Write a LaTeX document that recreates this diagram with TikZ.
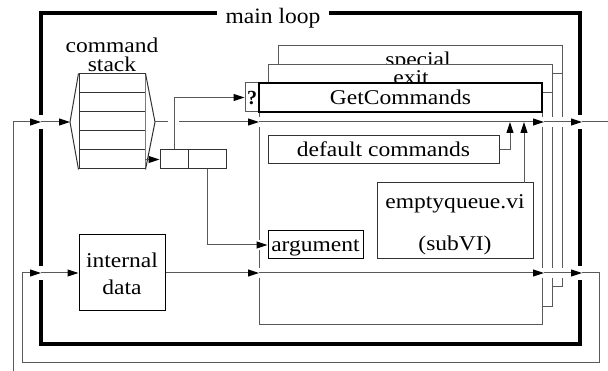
\documentclass[tikz,border=0pt]{standalone}
\usepackage{fontspec}
\setmainfont{Liberation Serif}
\usetikzlibrary{arrows.meta}
\newcommand\stx[1]{\scalebox{1.12}[1]{#1}}
\begin{document}
\begin{tikzpicture}[x=1pt,y=-1pt,
  wire/.style={draw=black!65, line width=1pt},
  frameline/.style={draw=black, line width=4pt},
  box/.style={draw=black!80, line width=1pt, fill=white, inner sep=0pt,
    font=\fontsize{21}{25}\selectfont, text height=14pt, text depth=0pt},
  arr/.style={-{Triangle[length=11pt,width=7pt,color=black]}},
  lbl/.style={font=\fontsize{21}{25}\selectfont, inner sep=0pt, anchor=base},
]
\useasboundingbox (0,0) rectangle (608,371);
% main loop frame
\draw[frameline] (217,13) -- (41,13) -- (41,115);
\draw[frameline] (41,129) -- (41,266);
\draw[frameline] (41,280) -- (41,344) -- (580,344) -- (580,280);
\draw[frameline] (580,266) -- (580,129);
\draw[frameline] (580,115) -- (580,13) -- (329,13);
\node[lbl, font=\fontsize{22}{26}\selectfont] (ml) at (273,24) {\scalebox{1.07}[1]{main loop}};

% special page
\draw[wire] (278,65) -- (278,46) -- (562,46) -- (562,117);
\draw[wire] (562,127) -- (562,268);
\draw[wire] (562,278) -- (562,287) -- (552,287);
\draw[wire] (552,74) -- (562,74);
\node[lbl] (sp) at (418,67) {\stx{special}};
% exit page
\fill[white] (268,65) rectangle (552,83);
\draw[wire] (268,83) -- (268,65) -- (552,65) -- (552,117);
\draw[wire] (552,127) -- (552,268);
\draw[wire] (552,278) -- (552,307) -- (542,307);
\draw[wire] (542,93) -- (552,93);
\node[lbl] (ex) at (411,85) {\stx{exit}};
% inner case frame
\draw[wire] (542,83) -- (542,117);
\draw[wire] (542,127) -- (542,268);
\draw[wire] (542,278) -- (542,325) -- (259,325) -- (259,278);
\draw[wire] (259,268) -- (259,250);
\draw[wire] (259,240) -- (259,127);
\draw[wire] (259,117) -- (259,112);
\node[box, draw=black!65, minimum width=14pt, minimum height=29pt, font=\fontsize{20}{24}\selectfont\bfseries] (q) at (252,97.5) {?};
\node[box, draw=black, line width=1.3pt, minimum width=283pt, minimum height=29pt] (gc) at (400.5,97.5) {\stx{GetCommands}};

% command stack
\node[box, minimum width=66pt, minimum height=95pt] (cs) at (112,121.5) {};
\foreach \yy in {93,112,131,150} \draw[box] (79,\yy) -- (145,\yy);
\coordinate (hexL) at (70,122);
\coordinate (hexR) at (155,122);
\draw[box] (cs.north west) -- (hexL) -- (cs.south west);
\draw[box] (cs.north east) -- (hexR) -- (cs.south east);
\node[lbl] (cmd1) at (112,53) {\stx{command}};
\node[lbl] (cmd2) at (112,72) {\stx{stack}};

% unbundle
\node[box, minimum width=28pt, minimum height=19pt] (ub1) at (174,159.5) {};
\node[box, minimum width=38pt, minimum height=19pt] (ub2) at (207,159.5) {};
\coordinate (row5) at (145,159.5);

% boxes
\node[box, minimum width=231pt, minimum height=28pt] (dc) at (383.5,150) {\stx{default commands}};
\node[box, draw=black, minimum width=95pt, minimum height=28pt] (arg) at (315.5,245) {\stx{argument}};
\node[box, minimum width=156pt, minimum height=76pt] (eq) at (455,221) {};
\node[lbl] (eq1) at (455,209) {\stx{emptyqueue.vi}};
\node[lbl] (eq2) at (455,251) {\stx{(subVI)}};
\node[box, draw=black, minimum width=86pt, minimum height=76pt] (id) at (122,273) {};
\node[lbl] (id1) at (122,268) {\stx{internal}};
\node[lbl] (id2) at (122,295) {\stx{data}};

% coordinates
\coordinate (inB) at (13,371);
\coordinate (fL1) at (41,122);
\coordinate (gapA) at (168,122);
\coordinate (gapB) at (179,122);
\coordinate (cL1) at (259,122);
\coordinate (cR1) at (544,122);
\coordinate (fR1) at (582,122);
\coordinate (outR) at (608,122);
\coordinate (j1) at (510,122);
\coordinate (j2) at (524,122);
\coordinate (eqT) at (524,183);
\coordinate (cL2) at (259,273);
\coordinate (cR2) at (544,273);
\coordinate (fR2) at (582,273);
\coordinate (fL2) at (41,273);
\coordinate (lpR) at (599,273);
\coordinate (lpL) at (22,363);

% wires
\draw[wire,arr] (inB) |- (fL1);
\draw[wire,arr] (fL1) -- (hexL);
\draw[wire] (hexR) -- (gapA);
\draw[wire,arr] (gapB) -- (cL1);
\draw[wire,arr] (cL1) -- (cR1);
\draw[wire,arr] (cR1) -- (fR1);
\draw[wire] (fR1) -- (outR);
\draw[wire,arr] (row5) -- (ub1.west);
\draw[wire,arr] (ub1.north) |- (q.west);
\draw[wire,arr] (ub2.south) |- (arg.west);
\draw[wire,arr] (dc.east) -| (j1);
\draw[wire,arr] (eqT) -- (j2);
\draw[wire,arr] (id.east) -- (cL2);
\draw[wire,arr] (cL2) -- (cR2);
\draw[wire,arr] (cR2) -- (fR2);
\draw[wire,arr] (fR2) -- (lpR) |- (lpL) |- (fL2);
\draw[wire,arr] (fL2) -- (id.west);
\end{tikzpicture}
\end{document}
